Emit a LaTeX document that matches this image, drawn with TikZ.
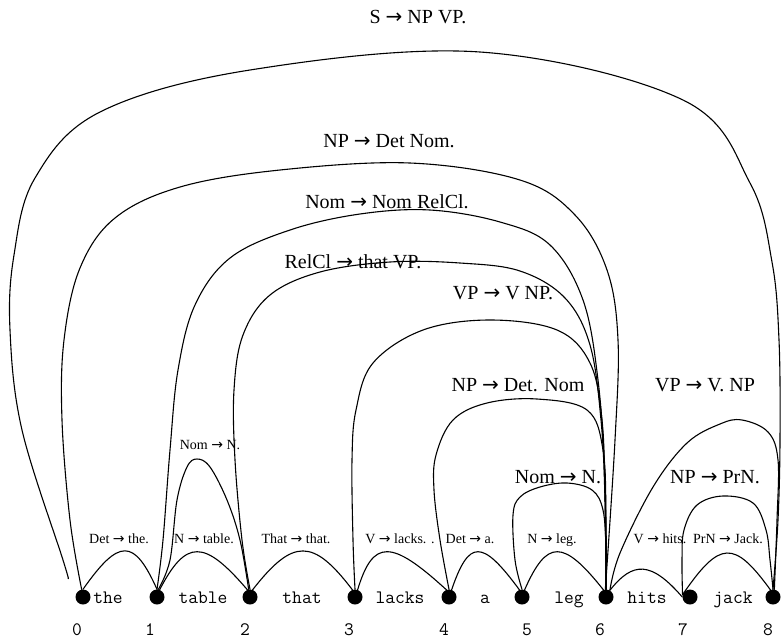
\documentclass[tikz,border=0pt]{standalone}
\usepackage{fontspec}
\setmainfont{Liberation Serif}
\newfontfamily\arrowfont{DejaVu Sans}
\newcommand{\ra}{{\arrowfont →}}
\begin{document}
\begin{tikzpicture}[x=1pt,y=-1pt,
  arcline/.style={line width=1.1pt, line join=round, line cap=round},
  dot/.style={circle, fill=black, inner sep=0pt, minimum size=15pt},
  word/.style={font=\ttfamily\fontsize{19}{19}\selectfont, inner sep=0pt, anchor=base},
  num/.style={font=\ttfamily\fontsize{19}{19}\selectfont, inner sep=0pt, anchor=base},
  big/.style={font=\fontsize{20}{20}\selectfont, inner sep=0pt, anchor=base},
  small/.style={font=\fontsize{14}{14}\selectfont, inner sep=0pt, anchor=base}]
\useasboundingbox (0,0) rectangle (781,638);

% dots
\node[dot] (d0) at (83,597) {};
\node[dot] (d1) at (157,597) {};
\node[dot] (d2) at (250,597) {};
\node[dot] (d3) at (355,597) {};
\node[dot] (d4) at (449,597) {};
\node[dot] (d5) at (522,597) {};
\node[dot] (d6) at (606,597) {};
\node[dot] (d7) at (690,597) {};
\node[dot] (d8) at (773,597) {};

% words
\node[word] (w0) at (108,603) {the};
\node[word] (w1) at (203,603) {table};
\node[word] (w2) at (302,603) {that};
\node[word] (w3) at (400,603) {lacks};
\node[word] (w4) at (485,603) {a};
\node[word] (w5) at (569,603) {leg};
\node[word] (w6) at (647,603) {hits};
\node[word] (w7) at (733,603) {jack};

% numbers
\node[num] (n0) at (77,635) {0};
\node[num] (n1) at (150,635) {1};
\node[num] (n2) at (245,635) {2};
\node[num] (n3) at (349,635) {3};
\node[num] (n4) at (444,635) {4};
\node[num] (n5) at (527,635) {5};
\node[num] (n6) at (600,635) {6};
\node[num] (n7) at (683,635) {7};
\node[num] (n8) at (768,635) {8};

% small arcs between neighbours
\draw[arcline] (d0.north) .. controls (119,538) and (134,538) .. (d1.north);
\draw[arcline] (d1.70) .. controls (186,539) and (204,539) .. (d2.110);
\draw[arcline] (d2.70) .. controls (293,538) and (313,538) .. (d3.110);
\draw[arcline] (d3.70) .. controls (373,539) and (391,539) .. (d4.110);
\draw[arcline] (d4.70) .. controls (469,539) and (482,539) .. (d5.110);
\draw[arcline] (d5.70) .. controls (547,539) and (563,539) .. (d6.110);
\draw[arcline] (d6.60) .. controls (633,561) and (651,561) .. (d7.west);
\draw[arcline] (d7.160) .. controls (720,540) and (734,540) .. (d8.110);

% Nom -> N. (1-2)
\draw[arcline] plot[smooth,tension=0.6] coordinates {(d1.80) (170,560) (177,500) (187,467) (197,459) (210,467) (227,500) (240,540) (d2.100)};

% S (0-8)
\coordinate (s0) at (68,578);
\draw[arcline] plot[smooth,tension=0.6] coordinates {(s0) (63,560) (22,430) (10,330) (14,255) (35,178) (100,112) (250,70) (480,52) (683,100) (750,183) (772,262) (779,340) (780,440) (778,520) (d8.north)};

% NP -> Det Nom (0-6)
\draw[arcline] plot[smooth,tension=0.6] coordinates {(d0.100) (70,520) (62,420) (64,340) (80,268) (115,218) (180,187) (280,170) (410,163) (520,180) (575,215) (607,270) (618,340) (615,440) (d6.95)};

% Nom -> Nom RelCl (1-6)
\draw[arcline] plot[smooth,tension=0.6] coordinates {(d1.north) (163,540) (170,450) (178,370) (195,305) (230,258) (290,230) (360,214) (430,210) (500,222) (550,245) (583,300) (598,380) (605,480) (d6.north)};

% RelCl -> that VP (2-6)
\draw[arcline] plot[smooth,tension=0.6] coordinates {(d2.north) (242,540) (235,460) (234,390) (243,335) (270,295) (320,272) (390,262) (460,263) (520,271) (565,298) (590,345) (601,420) (605,500) (d6.north)};

% VP -> V NP (3-6)
\draw[arcline] plot[smooth,tension=0.6] coordinates {(d3.north) (353,540) (352,460) (356,410) (373,363) (423,330) (490,320) (557,330) (590,363) (602,420) (605,500) (d6.north)};

% NP -> Det. Nom (4-6)
\draw[arcline] plot[smooth,tension=0.6] coordinates {(d4.north) (440,540) (434,490) (436,455) (453,420) (487,403) (537,399) (587,410) (603,450) (606,520) (d6.north)};

% Nom -> N. (5-6)
\draw[arcline] plot[smooth,tension=0.6] coordinates {(d5.north) (515,560) (513,515) (520,497) (540,487) (567,483) (592,490) (603,510) (606,550) (d6.north)};

% NP -> PrN. (7-8)
\draw[arcline] plot[smooth,tension=0.6] coordinates {(d7.165) (682,560) (684,530) (697,505) (723,496) (753,503) (766,530) (770,560) (d8.north)};

% VP -> V. NP (6-8)
\draw[arcline] plot[smooth,tension=0.6] coordinates {(d6.60) (620,553) (653,487) (687,443) (720,424) (742,420) (768,432) (778,460) (777,520) (d8.80)};

% labels
\node[big] (l1) at (418,23) {S \ra{} NP VP.};
\node[big] (l2) at (389,147) {NP \ra{} Det Nom.};
\node[big] (l3) at (387,208) {Nom \ra{} Nom RelCl.};
\node[big] (l4) at (353,268) {RelCl \ra{} that VP.};
\node[big] (l5) at (503,299) {VP \ra{} V NP.};
\node[big] (l6) at (518,391) {NP \ra{} Det. Nom};
\node[big] (l7) at (705,391) {VP \ra{} V. NP};
\node[big] (l8) at (558,483) {Nom \ra{} N.};
\node[big] (l9) at (715,483) {NP \ra{} PrN.};
\node[small] (m0) at (210,449) {Nom \ra{} N.};
\node[small] (m1) at (119,543) {Det \ra{} the.};
\node[small] (m2) at (204,543) {N \ra{} table.};
\node[small] (m3) at (296,543) {That \ra{} that.};
\node[small] (m4) at (400,543) {V \ra{} lacks. .};
\node[small] (m5) at (470,543) {Det \ra{} a.};
\node[small] (m6) at (552,543) {N \ra{} leg.};
\node[small] (m7) at (660,543) {V \ra{} hits.};
\node[small] (m8) at (728,543) {PrN \ra{} Jack.};
\end{tikzpicture}
\end{document}
